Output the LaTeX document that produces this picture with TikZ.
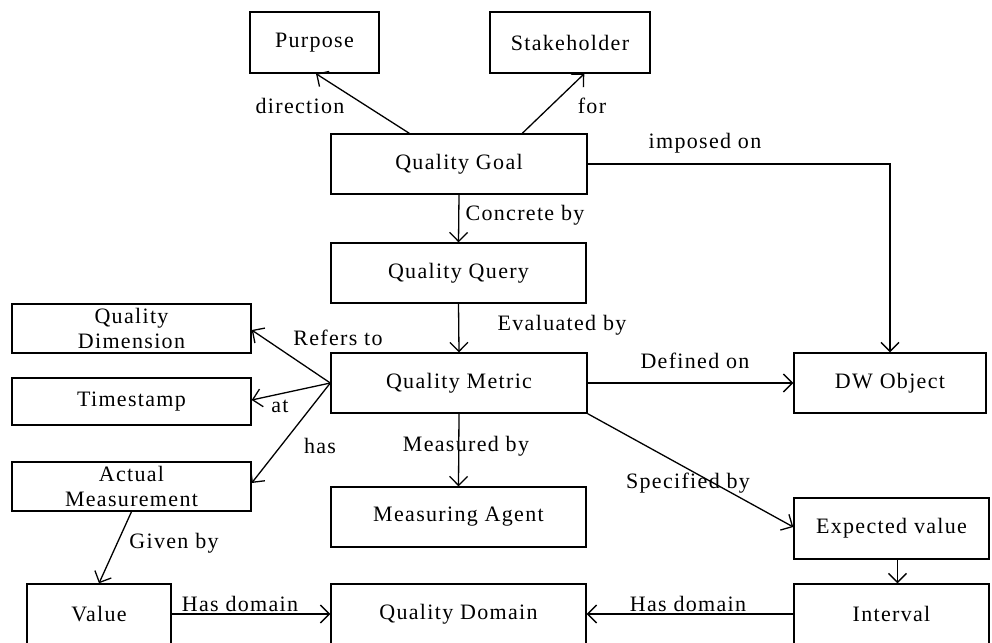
\documentclass[tikz,border=0pt]{standalone}
\usepackage{fontspec}
\setmainfont{Liberation Serif}[LetterSpace=6]
\usetikzlibrary{arrows.meta}
\begin{document}
\begin{tikzpicture}[x=1pt,y=-1pt,
  box/.style={draw,line width=1.4pt,inner sep=0pt,align=center,font=\fontsize{22}{25}\selectfont},
  arr/.style={line width=1.3pt,-{Straight Barb[length=9pt,width=18pt,line width=1.3pt]}},
  lbl/.style={inner sep=0pt,font=\fontsize{22}{25}\selectfont}]
\useasboundingbox (0,0) rectangle (992,642);
\clip (0,0) rectangle (992,642);
\node[box,minimum width=129pt,minimum height=61pt] (pur) at (314.5,42.5) {Purpose};
\node[box,minimum width=160pt,minimum height=61pt] (stk) at (570,42.5) {Stakeholder};
\node[box,minimum width=256pt,minimum height=60pt] (qg) at (459,164) {Quality Goal};
\node[box,minimum width=255pt,minimum height=60pt] (qq) at (458.5,273) {Quality Query};
\node[box,minimum width=256pt,minimum height=60pt] (qm) at (459,383) {Quality Metric};
\node[box,minimum width=192pt,minimum height=60pt] (dw) at (890,383) {DW Object};
\node[box,minimum width=239pt,minimum height=49pt] (qdim) at (131.5,328.5) {Quality\\Dimension};
\node[box,minimum width=239pt,minimum height=47pt] (ts) at (131.5,401.5) {Timestamp};
\node[box,minimum width=239pt,minimum height=49pt] (am) at (131.5,486.5) {Actual\\Measurement};
\node[box,minimum width=255pt,minimum height=60pt] (ma) at (458.5,517) {Measuring Agent};
\node[box,minimum width=195pt,minimum height=61pt] (ev) at (891.5,528.5) {Expected value};
\node[box,minimum width=144pt,minimum height=60pt] (val) at (99,614) {Value};
\node[box,minimum width=255pt,minimum height=60pt] (qdom) at (458.5,614) {Quality Domain};
\node[box,minimum width=195pt,minimum height=60pt] (int) at (891.5,614) {Interval};

\draw[arr] ([xshift=79pt]qg.north west) -- ([xshift=1.5pt]pur.south);
\draw[arr] ([xshift=192pt]qg.north west) -- ([xshift=95pt]stk.south west);
\draw[arr] (qg.east) -- (dw.north |- qg.east) -- (dw.north);
\draw[arr] (qg.south) -- (qq.north);
\draw[arr] (qq.south) -- (qm.north);
\draw[arr] (qm.west) -- ([yshift=-1.5pt]qdim.east);
\draw[arr] (qm.west) -- ([yshift=1.5pt]ts.east);
\draw[arr] (qm.west) -- ([yshift=3.5pt]am.east);
\draw[arr] (qm.east) -- (dw.west);
\draw[arr] (qm.south east) -- ([yshift=1.5pt]ev.west);
\draw[arr] (qm.south) -- (ma.north);
\draw[arr] (am.south) -- (val.north);
\draw[arr] (val.east) -- (qdom.east -| qdom.west);
\draw[arr] ([xshift=6pt]ev.south) -- ([xshift=6pt]int.north);
\draw[arr] (int.west) -- (qdom.east);

\node[lbl] (l1) at (300,106) {direction};
\node[lbl] (l2) at (592,106) {for};
\node[lbl] (l3) at (705,143) {imposed on};
\node[lbl] (l4) at (525,215) {Concrete by};
\node[lbl] (l5) at (562,325) {Evaluated by};
\node[lbl] (l6) at (338,338) {Refers to};
\node[lbl] (l7) at (280,406) {at};
\node[lbl] (l8) at (320,446) {has};
\node[lbl] (l9) at (466,446) {Measured by};
\node[lbl] (l10) at (695,361) {Defined on};
\node[lbl] (l11) at (688,483) {Specified by};
\node[lbl] (l12) at (174,543) {Given by};
\node[lbl] (l13) at (240,604) {Has domain};
\node[lbl] (l14) at (688,604) {Has domain};
\end{tikzpicture}
\end{document}
